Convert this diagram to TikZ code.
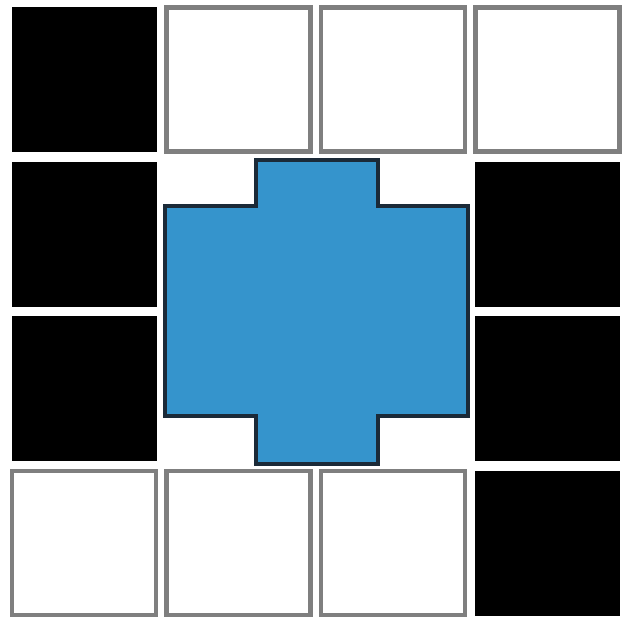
\documentclass[tikz,border=0pt]{standalone}
\usepackage{xcolor}
\usepackage{tikz}
\definecolor{gridGray}{HTML}{7F7F7F}
\definecolor{crossBlue}{HTML}{3594CC}
\definecolor{crossEdge}{HTML}{1B2A38}
\tikzset{
  whiteCell/.style={
    rectangle,
    draw=gridGray,
    fill=white,
    line width=2.8pt,
    inner sep=0pt,
    minimum size=2.88cm
  },
  blackCell/.style={
    rectangle,
    draw=black,
    fill=black,
    line width=0.5pt,
    inner sep=0pt,
    minimum size=2.88cm
  },
  crossShape/.style={
    fill=crossBlue,
    draw=crossEdge,
    line width=1.8pt,
    line join=miter
  }
}
\begin{document}
\begin{tikzpicture}[x=0.02cm,y=-0.02cm]
  \useasboundingbox (0,0) rectangle (628,618);
  % 4x4 board of cells
  \foreach \row/\col/\kind in {1/1/blackCell,1/2/whiteCell,1/3/whiteCell,1/4/whiteCell,
                              2/1/blackCell,2/4/blackCell,
                              3/1/blackCell,3/4/blackCell,
                              4/1/whiteCell,4/2/whiteCell,4/3/whiteCell,4/4/blackCell}
    \node[\kind] (cell-\row-\col) at ({84+154.5*(\col-1)},{79.5+154.5*(\row-1)}) {};
  % blue block over the middle
  \draw[crossShape] (256,160) -- (378,160) -- (378,206) -- (468,206) -- (468,416)
    -- (378,416) -- (378,464) -- (256,464) -- (256,416) -- (165,416)
    -- (165,206) -- (256,206) -- cycle;
\end{tikzpicture}
\end{document}
